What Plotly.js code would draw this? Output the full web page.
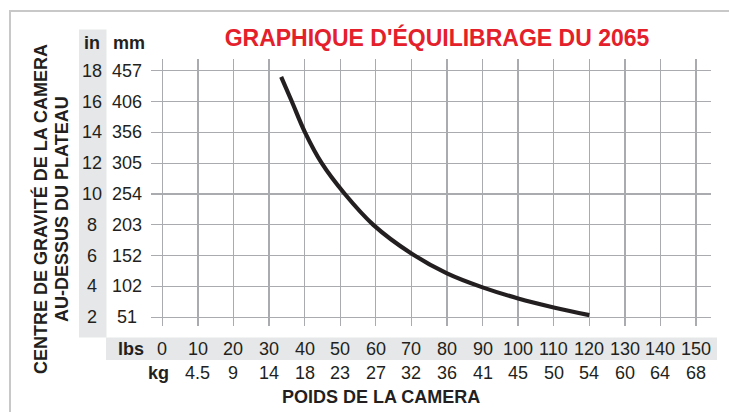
<!DOCTYPE html>
<html>
<head>
<meta charset="utf-8">
<script src="https://cdn.plot.ly/plotly-3.0.1.min.js"></script>
<style>html,body{margin:0;padding:0;background:#fff;}#chart{width:729px;height:412px;}</style>
</head>
<body>
<div id="chart"></div>
<script>
// ---- data ----
const lbsTicks = [0, 10, 20, 30, 40, 50, 60, 70, 80, 90, 100, 110, 120, 130, 140, 150];
const kgLbsPos = [10, 20, 30, 40, 50, 60, 70, 80, 90, 100, 110, 120, 130, 140, 150];
const kgLabels = ['4.5', '9', '14', '18', '23', '27', '32', '36', '41', '45', '50', '54', '60', '64', '68'];
const inTicks = [2, 4, 6, 8, 10, 12, 14, 16, 18];
const mmLabels = ['51', '102', '152', '203', '254', '305', '356', '406', '457'];
const curveLbs = [33.4, 36.4, 40.1, 44.8, 51.3, 59.3, 70, 80, 90, 100, 110, 120];
const curveIn  = [17.6, 16.0, 14.0, 12.0, 10.0, 8.0, 6.14, 4.85, 3.94, 3.22, 2.64, 2.14];

// ---- layout helpers (pixel -> paper) ----
const L = 151, R = 711, T = 59, B = 326, W = 729, H = 412;
const PW = R - L, PH = B - T;
const px = v => (v - L) / PW;
const py = v => (B - v) / PH;

const FONT = 'Liberation Sans, Arial, sans-serif';
const dark = '#231f20';
const annotations = [];

// y labels (in / mm)
inTicks.forEach((v, i) => {
  annotations.push({xref: 'paper', yref: 'y', x: px(92), y: v, text: String(v), showarrow: false,
    xanchor: 'center', yanchor: 'middle', font: {family: FONT, size: 18, color: dark}});
  annotations.push({xref: 'paper', yref: 'y', x: px(127), y: v, text: mmLabels[i], showarrow: false,
    xanchor: 'center', yanchor: 'middle', font: {family: FONT, size: 18, color: dark}});
});
// x labels (lbs / kg)
lbsTicks.forEach(v => {
  annotations.push({xref: 'x', yref: 'paper', x: v, y: py(349), text: String(v), showarrow: false,
    xanchor: 'center', yanchor: 'middle', font: {family: FONT, size: 18, color: dark}});
});
kgLbsPos.forEach((v, i) => {
  annotations.push({xref: 'x', yref: 'paper', x: v, y: py(373), text: kgLabels[i], showarrow: false,
    xanchor: 'center', yanchor: 'middle', font: {family: FONT, size: 18, color: dark}});
});
// headers
const hdr = (t, x, y) => annotations.push({xref: 'paper', yref: 'paper', x: px(x), y: py(y), text: '<b>' + t + '</b>',
  showarrow: false, xanchor: 'center', yanchor: 'middle', font: {family: FONT, size: 18, color: dark}});
hdr('in', 92, 43);
hdr('mm', 129, 43);
hdr('lbs', 130.5, 349);
hdr('kg', 158, 373);
// axis titles
annotations.push({xref: 'paper', yref: 'paper', x: px(381), y: py(397), text: '<b>POIDS DE LA CAMERA</b>',
  showarrow: false, xanchor: 'center', yanchor: 'middle', font: {family: FONT, size: 18, color: dark}});
annotations.push({xref: 'paper', yref: 'paper', x: px(40), y: py(209), text: '<b>CENTRE DE GRAVITÉ DE LA CAMERA</b>',
  showarrow: false, textangle: -90, xanchor: 'center', yanchor: 'middle', font: {family: FONT, size: 18, color: dark}});
annotations.push({xref: 'paper', yref: 'paper', x: px(62), y: py(209), text: '<b>AU-DESSUS DU PLATEAU</b>',
  showarrow: false, textangle: -90, xanchor: 'center', yanchor: 'middle', font: {family: FONT, size: 18, color: dark}});

const shapes = [
  // outer frame
  {type: 'rect', xref: 'paper', yref: 'paper', x0: px(10), x1: px(760), y0: py(11), y1: py(440),
   line: {color: '#c8c8c8', width: 2}, fillcolor: 'rgba(0,0,0,0)', layer: 'below'},
  // gray bands
  {type: 'rect', xref: 'paper', yref: 'paper', x0: px(79), x1: px(106.5), y0: py(29.5), y1: py(337.5),
   line: {width: 0}, fillcolor: '#e6e7e8', layer: 'below'},
  {type: 'rect', xref: 'paper', yref: 'paper', x0: px(106), x1: px(717), y0: py(337.5), y1: py(360),
   line: {width: 0}, fillcolor: '#e6e7e8', layer: 'below'}
];

const xr = [-3.18, 154.2];
const yr = [1.435, 18.76];

Plotly.newPlot('chart', [{
  x: curveLbs, y: curveIn, type: 'scatter', mode: 'lines',
  line: {color: dark, width: 4.2, shape: 'spline', smoothing: 1},
  hoverinfo: 'skip', showlegend: false, cliponaxis: false
}], {
  width: W, height: H,
  margin: {l: L, r: W - R, t: T, b: H - B, pad: 0},
  paper_bgcolor: '#ffffff', plot_bgcolor: '#ffffff',
  title: {text: "<b>GRAPHIQUE D'ÉQUILIBRAGE DU 2065</b>", x: 437 / W, xanchor: 'center', xref: 'container',
    y: 1 - 38 / H, yanchor: 'middle', yref: 'container', font: {family: FONT, size: 23, color: '#e4202b'}},
  xaxis: {range: xr, tickvals: lbsTicks, showticklabels: false, ticks: '', showgrid: true,
    gridcolor: '#a9abae', gridwidth: 1.3, zeroline: false, showline: false, fixedrange: true},
  yaxis: {range: yr, tickvals: inTicks, showticklabels: false, ticks: '', showgrid: true,
    gridcolor: '#a9abae', gridwidth: 1.3, zeroline: false, showline: false, fixedrange: true},
  annotations: annotations,
  shapes: shapes,
  showlegend: false
}, {staticPlot: true});
</script>
</body>
</html>
